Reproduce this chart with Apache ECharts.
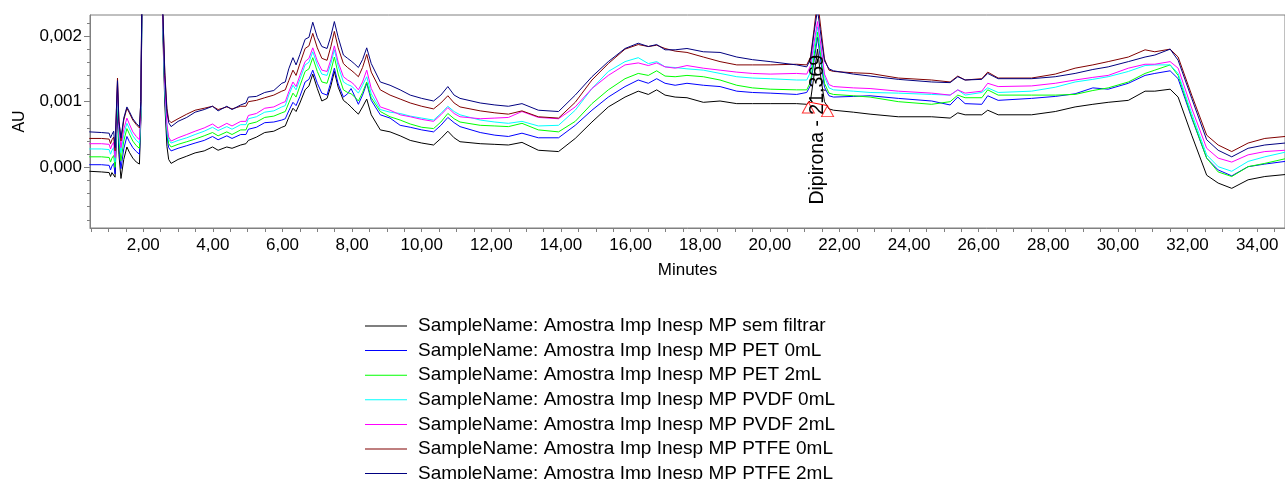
<!DOCTYPE html>
<html><head><meta charset="utf-8">
<script src="https://cdn.jsdelivr.net/npm/echarts@6/dist/echarts.min.js"></script>
<style>html,body{margin:0;padding:0;background:#fff}#c{width:1285px;height:479px}</style>
</head><body><div id="c"></div>
<script>
// Retention time (minutes)
const minutes = [0.45,0.80,1.02,1.06,1.10,1.15,1.19,1.23,1.26,1.30,
1.36,1.44,1.53,1.60,1.70,1.80,1.89,1.93,1.98,2.05,
2.20,2.40,2.50,2.56,2.62,2.68,2.73,2.80,3.00,3.25,
3.49,3.75,3.99,4.15,4.40,4.55,4.80,4.95,5.02,5.25,
5.49,5.75,5.98,6.08,6.18,6.30,6.39,6.50,6.65,6.76,
6.87,7.00,7.13,7.28,7.39,7.49,7.60,7.75,7.87,7.97,
8.06,8.18,8.30,8.42,8.55,8.81,9.09,9.38,9.67,10.00,
10.34,10.55,10.75,10.93,11.10,11.68,12.10,12.49,12.88,13.35,
13.93,14.41,14.89,15.36,15.84,16.22,16.51,16.75,16.99,17.28,
17.62,18.09,18.57,19.05,19.50,20.01,20.77,21.06,21.17,21.27,
21.37,21.47,21.57,21.70,21.83,22.40,22.88,23.69,24.65,25.18,
25.40,25.61,26.09,26.26,26.56,27.52,28.20,28.77,29.28,29.72,
30.30,30.78,31.06,31.50,31.73,32.12,32.55,32.88,33.27,33.74,
34.22,34.80];

// Absorbance (AU) per sample
const semFiltrar = [-0.00006,-0.00007,-0.00008,-0.00014,-0.00008,-0.00005,-0.00015,0.00050,0.00085,0.00020,
-0.00017,0.00012,0.00031,0.00023,0.00014,0.00008,0.00005,0.00070,0.0033,0.0088,
0.0136,0.0097,0.0047,0.0021,0.00095,0.00032,0.00012,0.00006,0.00012,0.00017,
0.00022,0.00025,0.00031,0.00026,0.00031,0.00029,0.00034,0.00036,0.00041,0.00046,
0.00053,0.00055,0.00061,0.00063,0.00076,0.00090,0.00085,0.00098,0.00118,0.00124,
0.00142,0.00120,0.00101,0.00105,0.00124,0.00146,0.00122,0.00102,0.00097,0.00092,
0.00087,0.00081,0.00092,0.00104,0.00080,0.00057,0.00054,0.00048,0.00041,0.00037,
0.00034,0.00044,0.00055,0.00045,0.00039,0.00036,0.00035,0.00034,0.00038,0.00026,
0.00024,0.00044,0.00069,0.00092,0.00107,0.00116,0.00111,0.00118,0.00110,0.00107,
0.00106,0.00099,0.00101,0.00097,0.00097,0.00097,0.00097,0.00096,0.00102,0.00140,
0.00180,0.00135,0.00100,0.00089,0.00087,0.00084,0.00081,0.00077,0.00077,0.00075,
0.00083,0.00080,0.00080,0.00087,0.00080,0.00080,0.00085,0.00092,0.00096,0.00099,
0.00102,0.00116,0.00116,0.00119,0.00107,0.00049,-0.00012,-0.00024,-0.00032,-0.00019,
-0.00014,-0.00011];

const pet0 = [0.00004,0.00004,0.00003,-0.00004,0.00002,0.00006,-0.00010,0.00060,0.00095,0.00032,
-0.00002,0.00028,0.00047,0.00039,0.00030,0.00024,0.00020,0.00075,0.0034,0.0089,
0.0137,0.0098,0.0048,0.0022,0.00110,0.00048,0.00030,0.00025,0.00029,0.00033,
0.00037,0.00041,0.00047,0.00042,0.00048,0.00044,0.00050,0.00050,0.00058,0.00061,
0.00068,0.00069,0.00072,0.00074,0.00086,0.00099,0.00094,0.00108,0.00130,0.00134,
0.00148,0.00128,0.00113,0.00110,0.00130,0.00151,0.00127,0.00107,0.00112,0.00120,
0.00110,0.00096,0.00110,0.00128,0.00102,0.00080,0.00075,0.00064,0.00061,0.00057,
0.00054,0.00064,0.00076,0.00068,0.00062,0.00053,0.00049,0.00047,0.00052,0.00045,
0.00045,0.00064,0.00087,0.00107,0.00123,0.00133,0.00128,0.00135,0.00128,0.00125,
0.00128,0.00125,0.00123,0.00116,0.00114,0.00113,0.00111,0.00114,0.00125,0.00162,
0.00198,0.00160,0.00122,0.00109,0.00107,0.00108,0.00109,0.00105,0.00101,0.00095,
0.00107,0.00097,0.00096,0.00109,0.00102,0.00105,0.00108,0.00112,0.00121,0.00119,
0.00128,0.00140,0.00143,0.00147,0.00135,0.00075,0.00014,-0.00004,-0.00013,0.00001,
0.00005,0.00009];

const pet2 = [0.00016,0.00016,0.00015,0.00008,0.00014,0.00018,0.00000,0.00070,0.00105,0.00042,
0.00010,0.00040,0.00059,0.00051,0.00040,0.00033,0.00029,0.00080,0.0034,0.0090,
0.0138,0.0098,0.0048,0.00225,0.00115,0.00055,0.00036,0.00031,0.00035,0.00039,
0.00043,0.00048,0.00053,0.00048,0.00054,0.00050,0.00057,0.00057,0.00066,0.00069,
0.00076,0.00078,0.00083,0.00085,0.00098,0.00113,0.00107,0.00124,0.00146,0.00150,
0.00167,0.00146,0.00130,0.00128,0.00147,0.00168,0.00142,0.00118,0.00114,0.00112,
0.00108,0.00101,0.00114,0.00130,0.00106,0.00085,0.00077,0.00072,0.00066,0.00061,
0.00059,0.00069,0.00082,0.00074,0.00069,0.00064,0.00063,0.00062,0.00067,0.00057,
0.00054,0.00070,0.00097,0.00118,0.00135,0.00143,0.00140,0.00147,0.00139,0.00138,
0.00140,0.00138,0.00133,0.00125,0.00121,0.00119,0.00118,0.00118,0.00130,0.00170,
0.00206,0.00168,0.00128,0.00113,0.00111,0.00109,0.00107,0.00100,0.00096,0.00100,
0.00110,0.00106,0.00106,0.00118,0.00110,0.00110,0.00110,0.00111,0.00117,0.00121,
0.00130,0.00143,0.00148,0.00156,0.00140,0.00077,0.00014,-0.00007,-0.00014,0.00001,
0.00006,0.00013];

const pvdf0 = [0.00028,0.00028,0.00027,0.00020,0.00026,0.00030,0.00008,0.00075,0.00115,0.00050,
0.00022,0.00050,0.00067,0.00059,0.00048,0.00041,0.00037,0.00085,0.0035,0.0090,
0.0138,0.0099,0.0049,0.0023,0.00120,0.00060,0.00042,0.00037,0.00041,0.00045,
0.00050,0.00055,0.00061,0.00056,0.00062,0.00058,0.00065,0.00065,0.00074,0.00077,
0.00084,0.00086,0.00092,0.00094,0.00110,0.00125,0.00118,0.00134,0.00156,0.00160,
0.00176,0.00156,0.00142,0.00140,0.00158,0.00179,0.00154,0.00130,0.00126,0.00124,
0.00120,0.00113,0.00125,0.00138,0.00112,0.00088,0.00084,0.00082,0.00078,0.00075,
0.00072,0.00082,0.00093,0.00085,0.00080,0.00072,0.00069,0.00067,0.00070,0.00063,
0.00064,0.00087,0.00120,0.00146,0.00161,0.00167,0.00158,0.00161,0.00153,0.00152,
0.00150,0.00148,0.00143,0.00138,0.00136,0.00135,0.00133,0.00133,0.00145,0.00182,
0.00214,0.00178,0.00138,0.00121,0.00118,0.00116,0.00114,0.00113,0.00111,0.00110,
0.00118,0.00110,0.00114,0.00121,0.00114,0.00116,0.00122,0.00130,0.00134,0.00138,
0.00146,0.00155,0.00156,0.00156,0.00143,0.00082,0.00019,0.00001,-0.00006,0.00009,
0.00016,0.00023];

const pvdf2 = [0.00036,0.00036,0.00035,0.00028,0.00034,0.00038,0.00015,0.00080,0.00125,0.00060,
0.00030,0.00058,0.00075,0.00066,0.00054,0.00047,0.00042,0.00090,0.0035,0.0091,
0.0139,0.0099,0.0049,0.0023,0.00125,0.00065,0.00046,0.00040,0.00045,0.00050,
0.00055,0.00060,0.00066,0.00060,0.00067,0.00063,0.00070,0.00070,0.00079,0.00082,
0.00090,0.00092,0.00098,0.00100,0.00115,0.00130,0.00123,0.00140,0.00161,0.00166,
0.00182,0.00162,0.00148,0.00146,0.00164,0.00185,0.00160,0.00138,0.00133,0.00130,
0.00126,0.00118,0.00130,0.00148,0.00120,0.00092,0.00087,0.00080,0.00077,0.00073,
0.00070,0.00080,0.00091,0.00082,0.00077,0.00074,0.00075,0.00076,0.00085,0.00076,
0.00074,0.00092,0.00120,0.00140,0.00156,0.00159,0.00155,0.00159,0.00153,0.00151,
0.00155,0.00151,0.00148,0.00145,0.00143,0.00142,0.00143,0.00142,0.00155,0.00190,
0.00222,0.00185,0.00142,0.00126,0.00123,0.00121,0.00120,0.00116,0.00113,0.00110,
0.00118,0.00113,0.00116,0.00128,0.00123,0.00124,0.00128,0.00133,0.00137,0.00140,
0.00151,0.00157,0.00157,0.00161,0.00151,0.00090,0.00029,0.00014,0.00008,0.00019,
0.00024,0.00026];

const ptfe0 = [0.00044,0.00044,0.00043,0.00036,0.00042,0.00046,0.00025,0.00090,0.00136,0.00072,
0.00040,0.00072,0.00090,0.00083,0.00072,0.00065,0.00060,0.00100,0.0036,0.0092,
0.014,0.010,0.005,0.0024,0.00145,0.00090,0.00072,0.00068,0.00074,0.00081,
0.00087,0.00090,0.00093,0.00088,0.00092,0.00089,0.00093,0.00093,0.00100,0.00102,
0.00106,0.00110,0.00116,0.00118,0.00132,0.00148,0.00140,0.00158,0.00181,0.00185,
0.00204,0.00182,0.00166,0.00163,0.00184,0.00207,0.00182,0.00158,0.00152,0.00148,
0.00144,0.00138,0.00152,0.00172,0.00145,0.00118,0.00110,0.00104,0.00098,0.00093,
0.00089,0.00098,0.00109,0.00098,0.00092,0.00086,0.00083,0.00081,0.00086,0.00077,
0.00075,0.00099,0.00133,0.00158,0.00180,0.00187,0.00184,0.00186,0.00181,0.00177,
0.00175,0.00168,0.00161,0.00156,0.00156,0.00156,0.00157,0.00156,0.00168,0.00210,
0.00255,0.00210,0.00165,0.00148,0.00146,0.00144,0.00143,0.00136,0.00133,0.00130,
0.00139,0.00133,0.00135,0.00145,0.00136,0.00136,0.00142,0.00151,0.00156,0.00161,
0.00168,0.00179,0.00176,0.00180,0.00168,0.00110,0.00049,0.00034,0.00024,0.00037,
0.00044,0.00047];

const ptfe2 = [0.00054,0.00053,0.00052,0.00045,0.00050,0.00055,0.00030,0.00090,0.00132,0.00070,
0.00045,0.00075,0.00092,0.00085,0.00074,0.00067,0.00062,0.00100,0.0036,0.0092,
0.014,0.010,0.005,0.0024,0.00140,0.00085,0.00068,0.00062,0.00070,0.00076,
0.00084,0.00088,0.00093,0.00086,0.00093,0.00088,0.00095,0.00098,0.00107,0.00108,
0.00114,0.00117,0.00128,0.00130,0.00150,0.00167,0.00156,0.00172,0.00195,0.00198,
0.00221,0.00198,0.00184,0.00181,0.00200,0.00222,0.00198,0.00171,0.00166,0.00162,
0.00158,0.00152,0.00164,0.00182,0.00158,0.00130,0.00125,0.00118,0.00110,0.00105,
0.00101,0.00110,0.00123,0.00110,0.00105,0.00098,0.00095,0.00093,0.00097,0.00087,
0.00085,0.00110,0.00138,0.00161,0.00181,0.00189,0.00184,0.00187,0.00179,0.00179,
0.00181,0.00176,0.00175,0.00168,0.00164,0.00161,0.00156,0.00153,0.00165,0.00205,
0.00240,0.00200,0.00162,0.00150,0.00147,0.00142,0.00139,0.00134,0.00130,0.00129,
0.00138,0.00133,0.00134,0.00143,0.00135,0.00135,0.00138,0.00143,0.00149,0.00153,
0.00161,0.00168,0.00171,0.00180,0.00163,0.00105,0.00042,0.00026,0.00016,0.00029,
0.00034,0.00037];

const seriesNames = [
  'SampleName: Amostra Imp Inesp MP sem filtrar',
  'SampleName: Amostra Imp Inesp MP PET 0mL',
  'SampleName: Amostra Imp Inesp MP PET 2mL',
  'SampleName: Amostra Imp Inesp MP PVDF 0mL',
  'SampleName: Amostra Imp Inesp MP PVDF 2mL',
  'SampleName: Amostra Imp Inesp MP PTFE 0mL',
  'SampleName: Amostra Imp Inesp MP PTFE 2mL'
];

// Axis ticks / labels
const xLabelValues = [2,4,6,8,10,12,14,16,18,20,22,24,26,28,30,32,34];
const yLabelValues = [0, 0.001, 0.002];
const yMinorValues = [-0.0008,-0.0006,-0.0004,-0.0002,0.0002,0.0004,0.0006,0.0008,0.0012,0.0014,0.0016,0.0018,0.0022];

// Peak annotation (integration start / end on the unfiltered trace)
const peakLabel = 'Dipirona - 21,369';
const peakRT = 21.369;
const peakBaseTimes = [21.107, 21.658];
const peakBaseValues = [0.000995, 0.00094];

const FONT = '"Liberation Sans", Arial, sans-serif';
const colors = ['#000000','#0000ff','#00ff00','#00ffff','#ff00ff','#800000','#000080'];
const valueSets = [semFiltrar, pet0, pet2, pvdf0, pvdf2, ptfe0, ptfe2];
const AX = '#808080';
const xMin = 0.47, xMax = 34.80, yMin = -0.000924, yMax = 0.00232;

const xTicks = [];
for (let k = 1; k <= 69; k++) xTicks.push(k * 0.5);

const chart = echarts.init(document.getElementById('c'), null, {renderer: 'canvas'});

const series = valueSets.map((vals, i) => ({
  name: seriesNames[i], type: 'line', xAxisIndex: 0, yAxisIndex: 0,
  data: minutes.map((t, k) => [t, vals[k]]),
  symbol: 'none', showSymbol: false,
  lineStyle: {color: colors[i], width: 1}, itemStyle: {color: colors[i]},
  silent: true, animation: false, clip: true, z: 2
}));
series.push({
  type: 'line', xAxisIndex: 0, yAxisIndex: 0,
  data: peakBaseTimes.map((t, k) => [t, peakBaseValues[k]]),
  symbol: 'none', lineStyle: {color: '#ff0000', width: 1}, silent: true, animation: false, z: 3
});
series.push({
  type: 'scatter', xAxisIndex: 0, yAxisIndex: 0,
  data: peakBaseTimes.map((t, k) => [t, peakBaseValues[k]]),
  symbol: 'triangle', symbolSize: [12, 11], symbolOffset: [0, '50%'],
  itemStyle: {color: 'rgba(255,255,255,0)', borderColor: '#ff0000', borderWidth: 1},
  silent: true, animation: false, z: 4
});

chart.setOption({
  animation: false,
  backgroundColor: '#ffffff',
  grid: {left: 90, right: 0, top: 15, bottom: 251, show: true, borderColor: AX, borderWidth: 1, backgroundColor: 'transparent'},
  legend: {
    orient: 'vertical', left: 365, top: 316, padding: 0, height: 400,
    icon: 'rect', itemWidth: 42, itemHeight: 1, itemGap: 4.6,
    selectedMode: false, data: seriesNames,
    textStyle: {fontFamily: FONT, fontSize: 19, color: '#000', lineHeight: 20, padding: [0, 0, 0, 6]}
  },
  xAxis: {
    type: 'value', min: xMin, max: xMax, position: 'bottom',
    axisLine: {show: true, onZero: false, lineStyle: {color: AX, width: 1}},
    axisTick: {show: true, inside: false, length: 4, customValues: xTicks, lineStyle: {color: AX}},
    axisLabel: {customValues: xLabelValues, formatter: v => v.toFixed(2).replace('.', ','),
      fontFamily: FONT, fontSize: 17, color: '#000', margin: 9},
    splitLine: {show: false},
    name: 'Minutes', nameLocation: 'middle', nameGap: 34,
    nameTextStyle: {fontFamily: FONT, fontSize: 17, color: '#000'}
  },
  yAxis: [{
    type: 'value', min: yMin, max: yMax, position: 'left',
    axisLine: {show: true, onZero: false, lineStyle: {color: AX, width: 1}},
    axisTick: {show: true, inside: false, length: 6, customValues: yLabelValues, lineStyle: {color: AX}},
    axisLabel: {customValues: yLabelValues, formatter: v => v.toFixed(3).replace('.', ','),
      fontFamily: FONT, fontSize: 17, color: '#000', margin: 8},
    splitLine: {show: false},
    name: 'AU', nameLocation: 'middle', nameGap: 62,
    nameTextStyle: {fontFamily: FONT, fontSize: 16, color: '#000'}
  }, {
    type: 'value', min: yMin, max: yMax, position: 'left',
    axisLine: {show: false},
    axisTick: {show: true, inside: false, length: 3, customValues: yMinorValues, lineStyle: {color: AX}},
    axisLabel: {show: false}, splitLine: {show: false}
  }],
  series: series
});

const p = chart.convertToPixel({xAxisIndex: 0, yAxisIndex: 0}, [peakRT, 0]);
chart.setOption({
  graphic: [{
    type: 'text', x: p[0], y: 55, rotation: Math.PI / 2, z: 100, silent: true,
    style: {text: peakLabel, fontFamily: 'Liberation Sans', fontSize: 19.5, fill: '#000',
      textAlign: 'right', textVerticalAlign: 'middle', align: 'right', verticalAlign: 'middle'}
  }]
});
</script>
</body></html>
